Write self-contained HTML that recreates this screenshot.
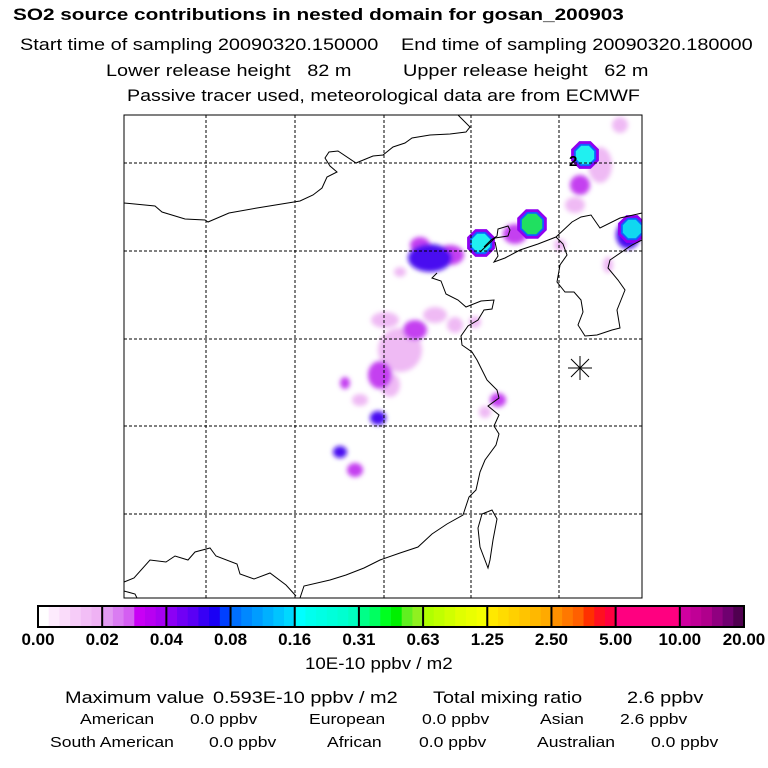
<!DOCTYPE html>
<html><head><meta charset="utf-8"><style>
body{margin:0;background:#fff;}
#c{position:relative;width:768px;height:768px;overflow:hidden;font-family:"Liberation Sans",sans-serif;color:#000;}
.t{position:absolute;white-space:pre;transform-origin:0 0;transform:scaleX(1.17);}
.h{font-size:17px;}
.s{font-size:15px;}
</style></head><body>
<div id="c">
<div class="t" style="left:13px;top:5px;font-size:17px;font-weight:bold;transform:scaleX(1.22);">SO2 source contributions in nested domain for gosan_200903</div>
<div class="t h" style="left:20px;top:35px;">Start time of sampling 20090320.150000</div>
<div class="t h" style="left:401px;top:35px;">End time of sampling 20090320.180000</div>
<div class="t h" style="left:106px;top:61px;">Lower release height   82 m</div>
<div class="t h" style="left:403px;top:61px;">Upper release height   62 m</div>
<div class="t h" style="left:127px;top:86px;transform:scaleX(1.155);">Passive tracer used, meteorological data are from ECMWF</div>

<svg id="map" style="position:absolute;left:0;top:0" width="768" height="768">
<defs><filter id="bl" x="-50%" y="-50%" width="200%" height="200%"><feGaussianBlur stdDeviation="2.5"/></filter>
<clipPath id="mc"><rect x="124" y="115" width="518" height="483"/></clipPath></defs>
<g clip-path="url(#mc)"><g id="blobs" filter="url(#bl)"></g><g id="octs"></g></g>
<g id="grid" stroke="#000" stroke-dasharray="3,2" stroke-width="1"></g>
<g fill="none" stroke="#000" stroke-width="1">
<path d="M124,203 L155,206 L162,212 L185,219 L205,220 L208,222 L229,213 L257,208 L300,201 L313,195 L322,188 L327,177 L337,172 L330,166 L325,158 L329,152 L338,151 L356,163 L373,156 L383,155 L393,147 L405,143 L412,138 L430,135 L450,134 L466,132 L470,127 L458,115"/>
<path d="M437,273 L432,278 L441,281 L446,294 L458,300 L466,307 L481,301 L494,300 L492,309 L484,310 L478,320 L468,326 L461,336 L462,345 L472,352 L477,360 L482,370 L487,380 L497,390 L499,398 L488,406 L499,415 L494,426 L499,434 L496,445 L485,460 L480,472 L476,490 L469,497 L463,515 L447,524 L432,534 L418,547 L400,553 L380,560 L364,568 L346,575 L330,580 L304,586 L300,598"/>
<path d="M480,252 L495,238 L508,236 L510,230 L508,226 L498,229 L497,236 L491,240 L484,247"/>
<path d="M495,242 L498,256 L494,262 L505,258 L520,250 L538,244 L556,237 L563,244 L567,255 L560,265 L557,282 L565,292 L574,292 L581,300 L583,312 L578,325 L585,336 L597,335 L612,330 L620,328 L617,310 L625,290 L618,280 L608,268 L610,260 L632,245 L642,240"/>
<path d="M556,237 L572,222 L581,217 L591,215 L600,228 L620,218 L642,213"/>
<path d="M482,514 L478,528 L480,547 L488,568 L490,560 L493,540 L497,519 L492,510 Z"/>
<path d="M124,582 L134,578 L150,560 L166,562 L175,556 L188,560 L195,552 L210,548 L216,556 L237,564 L240,574 L254,579 L270,573 L286,585 L296,596"/>
<path d="M124,591 L135,594 L137,598"/>
</g>
<g stroke="#000" stroke-width="1">
<line x1="568" y1="368" x2="592" y2="368"/><line x1="580" y1="356" x2="580" y2="380"/><line x1="571" y1="359" x2="589" y2="377"/><line x1="589" y1="359" x2="571" y2="377"/>
</g>
<text x="569" y="166" font-family="Liberation Sans,sans-serif" font-weight="bold" font-size="15">2</text>
<rect x="124" y="115" width="518" height="483" fill="none" stroke="#000" stroke-width="1"/>
<g id="cbar"></g>
</svg>

<div class="t h" style="left:305px;top:654px;transform:scaleX(1.1);">10E-10 ppbv / m2</div>
<div class="t h" style="left:65px;top:688px;">Maximum value</div>
<div class="t h" style="left:213px;top:688px;">0.593E-10 ppbv / m2</div>
<div class="t h" style="left:433px;top:688px;">Total mixing ratio</div>
<div class="t h" style="left:627px;top:688px;">2.6 ppbv</div>
<div class="t s" style="left:80px;top:711px;">American</div>
<div class="t s" style="left:190px;top:711px;">0.0 ppbv</div>
<div class="t s" style="left:309px;top:711px;">European</div>
<div class="t s" style="left:422px;top:711px;">0.0 ppbv</div>
<div class="t s" style="left:540px;top:711px;">Asian</div>
<div class="t s" style="left:620px;top:711px;">2.6 ppbv</div>
<div class="t s" style="left:50px;top:734px;">South American</div>
<div class="t s" style="left:209px;top:734px;">0.0 ppbv</div>
<div class="t s" style="left:327px;top:734px;">African</div>
<div class="t s" style="left:419px;top:734px;">0.0 ppbv</div>
<div class="t s" style="left:537px;top:734px;">Australian</div>
<div class="t s" style="left:651px;top:734px;">0.0 ppbv</div>
</div>
<script>
const tickLabels=["0.00","0.02","0.04","0.08","0.16","0.31","0.63","1.25","2.50","5.00","10.00","20.00"];
const segColors=[
["#ffffff","#fdebfd","#fadcfa","#f6ccf8","#f2bef6","#efb2f4"],
["#e29af2","#da7cf2","#d45ef2","#c800f5","#b800f2","#a600f2"],
["#8c00f5","#7000f5","#5a00f5","#3800f5","#1a00f5","#0040ff"],
["#0070ff","#0088ff","#009cff","#00b0ff","#00c4ff","#00d8ff"],
["#00ffff","#00ffee","#00ffe4","#00ffda","#00ffd0","#00ffc0"],
["#00ff88","#00ff60","#00ff20","#00f000","#60f020","#90f020"],
["#b0ff00","#c0ff00","#d0ff00","#e0ff00","#eaff00","#f4ff00"],
["#ffe800","#ffdc00","#ffd000","#ffc400","#ffb800","#ffaa00"],
["#ff9000","#ff7800","#ff6000","#ff3000","#ff1020","#ff0040"],
["#ff0080","#ff0080","#ff0080","#ff0080","#ff0080","#ff0080"],
["#d000a0","#c00096","#b0008c","#900080","#700070","#500050"]];
// diffuse plume patches (screen-estimated)
const spotX=[620,600,580,575,430,450,420,385,400,415,435,380,390,360,345,378,340,355,498,485,475,515,560,628,608,455,400];
const spotY=[125,165,185,205,258,255,245,320,350,330,315,375,385,400,383,418,452,470,400,412,322,234,245,235,265,325,272];
const spotRx=[8,12,10,10,22,14,10,14,22,12,12,12,10,8,5,8,7,8,8,6,6,12,6,12,5,8,6];
const spotRy=[8,18,10,8,14,10,8,8,22,10,8,14,12,6,6,7,6,7,7,6,6,10,6,14,8,8,5];
const spotLevel=[0,0,1,0,2,1,1,0,0,1,0,1,0,0,1,2,2,1,1,0,0,1,0,2,0,0,0];
const levelFill=["#efbaf4","#c440f0","#4a10f0"];
// sharp octagonal maxima
const octX=[585,532,481,632];
const octY=[155,224,243,229];
const octR=[12,13,12,12];
const octCore=["#20f0f0","#20e060","#20f0f0","#10d8f0"];
const ns="http://www.w3.org/2000/svg";
const gx=[206,295,384,471,559], gy=[163,251,339,426,514];
const grid=document.getElementById('grid');
gx.forEach(x=>{const l=document.createElementNS(ns,'line');l.setAttribute('x1',x);l.setAttribute('x2',x);l.setAttribute('y1',115);l.setAttribute('y2',598);

grid.appendChild(l);});
gy.forEach(y=>{const l=document.createElementNS(ns,'line');l.setAttribute('y1',y);l.setAttribute('y2',y);l.setAttribute('x1',124);l.setAttribute('x2',642);

grid.appendChild(l);});
const blobs=document.getElementById('blobs');
[0,1,2].forEach(lv=>{spotX.forEach((x,i)=>{ if(spotLevel[i]!==lv)return;
 const c=document.createElementNS(ns,'ellipse');c.setAttribute('cx',x);c.setAttribute('cy',spotY[i]);c.setAttribute('rx',spotRx[i]);c.setAttribute('ry',spotRy[i]);c.setAttribute('fill',levelFill[lv]);
 
 blobs.appendChild(c);});});
function oct(cx,cy,r){let p=[];for(let k=0;k<8;k++){const a=Math.PI/8+k*Math.PI/4;p.push((cx+r*Math.cos(a)).toFixed(1)+','+(cy+r*Math.sin(a)).toFixed(1));}return p.join(' ');}
const octs=document.getElementById('octs');
octX.forEach((x,i)=>{
 const a=document.createElementNS(ns,'polygon');a.setAttribute('points',oct(x,octY[i],octR[i]+3));a.setAttribute('fill','#9000f0');
 
 octs.appendChild(a);
 const b=document.createElementNS(ns,'polygon');b.setAttribute('points',oct(x,octY[i],octR[i]));b.setAttribute('fill','#1060ff');
 
 octs.appendChild(b);
 const c=document.createElementNS(ns,'polygon');c.setAttribute('points',oct(x,octY[i],octR[i]-2));c.setAttribute('fill',octCore[i]);
 
 octs.appendChild(c);});
const cb=document.getElementById('cbar');
const x0=38,x1=744,y0=606,h=21,n=segColors.length,sw=(x1-x0)/n;
segColors.forEach((cols,i)=>{cols.forEach((col,j)=>{const r=document.createElementNS(ns,'rect');
 r.setAttribute('x',x0+i*sw+j*sw/cols.length);r.setAttribute('y',y0);r.setAttribute('width',sw/cols.length+0.5);r.setAttribute('height',h);r.setAttribute('fill',col);
 
 cb.appendChild(r);});});
for(let i=0;i<=n;i++){const l=document.createElementNS(ns,'line');const x=x0+i*sw;l.setAttribute('x1',x);l.setAttribute('x2',x);l.setAttribute('y1',y0);l.setAttribute('y2',y0+h);l.setAttribute('stroke','#000');l.setAttribute('stroke-width','2');
 
 cb.appendChild(l);}
const fr=document.createElementNS(ns,'rect');fr.setAttribute('x',x0);fr.setAttribute('y',y0);fr.setAttribute('width',x1-x0);fr.setAttribute('height',h);fr.setAttribute('fill','none');fr.setAttribute('stroke','#000');fr.setAttribute('stroke-width','2');

cb.appendChild(fr);
tickLabels.forEach((t,i)=>{const tx=document.createElementNS(ns,'text');tx.setAttribute('x',x0+i*(x1-x0)/(tickLabels.length-1));
 tx.setAttribute('y',645);tx.setAttribute('text-anchor','middle');tx.setAttribute('font-family','Liberation Sans,sans-serif');tx.setAttribute('font-weight','bold');tx.setAttribute('font-size','17');
 tx.textContent=t;
 
 cb.appendChild(tx);});
</script>
</body></html>
